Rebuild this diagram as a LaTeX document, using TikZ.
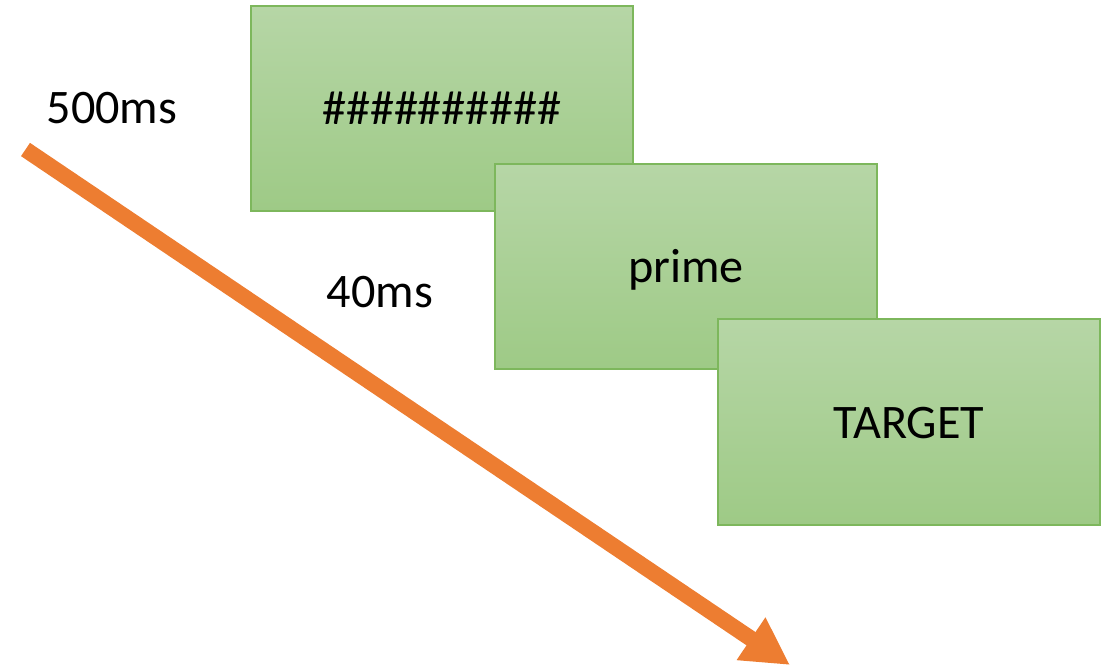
\documentclass[tikz,border=0pt]{standalone}
\usepackage{fontspec}
\setmainfont{Carlito}
\usetikzlibrary{arrows.meta}
\definecolor{boxtop}{HTML}{B6D6A6}
\definecolor{boxbottom}{HTML}{9ECA86}
\definecolor{boxedge}{HTML}{7DB75C}
\definecolor{timearrow}{HTML}{ED7D31}
\tikzset{
  screen/.style={draw=boxedge, line width=0.02cm, top color=boxtop, bottom color=boxbottom,
    minimum width=3.82cm, minimum height=2.05cm, inner sep=0pt,
    text height=0.42cm, text depth=0.10cm,
    font=\fontsize{13.7pt}{16pt}\selectfont},
  label/.style={anchor=base, inner sep=0pt, font=\fontsize{13.7pt}{16pt}\selectfont},
  timeline/.style={draw=timearrow, line width=0.16cm,
    -{Triangle[length=0.47cm, width=0.48cm]}}
}
\begin{document}
\begin{tikzpicture}[x=0.01cm, y=-0.01cm]
  \useasboundingbox (0,0) rectangle (1115,666);
  % timeline arrow
  \coordinate (tstart) at (25.5,149.5);
  \coordinate (tend) at (790,665);
  \draw[timeline] (tstart) -- (tend);
  % durations
  \node[label] (dur1) at (112,123) {500ms};
  \node[label] (dur2) at (380,307) {40ms};
  % screens
  \node[screen] (mask) at (442,108.5) {\#\#\#\#\#\#\#\#\#\#};
  \node[screen] (prime) at (686,266.5) {prime};
  \node[screen] (target) at (909,422) {TARGET};
\end{tikzpicture}
\end{document}
